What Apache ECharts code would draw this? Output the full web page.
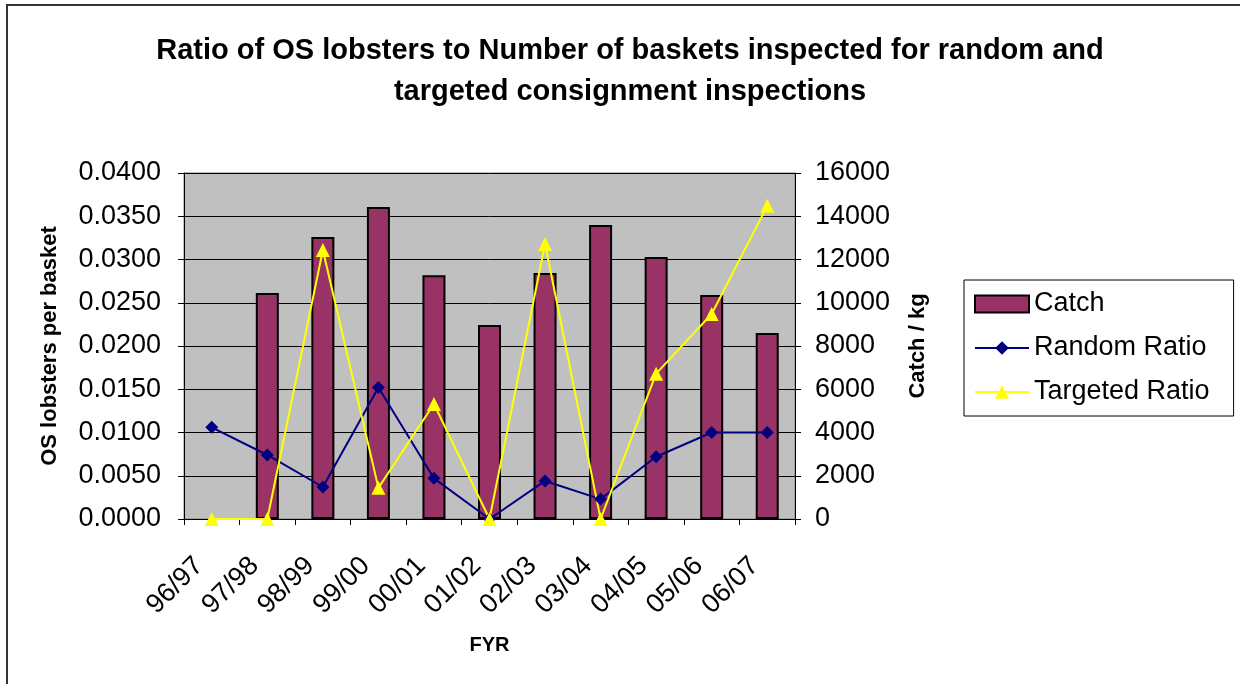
<!DOCTYPE html>
<html>
<head>
<meta charset="utf-8">
<script src="https://cdn.jsdelivr.net/npm/echarts@6/dist/echarts.min.js"></script>
<style>
html,body{margin:0;padding:0;background:#fff;}
#chart{width:1240px;height:684px;}
</style>
</head>
<body>
<div id="chart"></div>
<script>
const categories = ['96/97','97/98','98/99','99/00','00/01','01/02','02/03','03/04','04/05','05/06','06/07'];
const catchKg = [null, 10450, 13040, 14430, 11270, 8970, 11380, 13600, 12120, 10360, 8600];
const randomRatio = [0.0106, 0.0074, 0.0037, 0.0152, 0.0047, 0.0000, 0.0044, 0.0023, 0.0072, 0.0100, 0.0100];
const targetedRatio = [0.0000, 0.0000, 0.0311, 0.0036, 0.0133, 0.0000, 0.0318, 0.0000, 0.0168, 0.0237, 0.0362];
const leftTicks = {min: 0, max: 0.04, interval: 0.005};
const rightTicks = {min: 0, max: 16000, interval: 2000};

const FONT = '"Liberation Sans", Arial, sans-serif';
const chart = echarts.init(document.getElementById('chart'), null, {renderer: 'canvas'});
chart.setOption({
  animation: false,
  backgroundColor: '#ffffff',
  textStyle: {fontFamily: FONT, color: '#000'},
  title: {
    text: 'Ratio of OS lobsters to Number of baskets inspected for random and\ntargeted consignment inspections',
    left: 625, top: 25, textAlign: 'center',
    textStyle: {fontFamily: FONT, fontSize: 29, fontWeight: 'bold', color: '#000', lineHeight: 41}
  },
  graphic: [{
    type: 'rect', shape: {x: 7, y: 5, width: 1300, height: 800},
    style: {fill: 'none', stroke: '#333', lineWidth: 2}, silent: true, z: 100
  }],
  legend: {
    orient: 'vertical', left: 964, top: 280,
    padding: [9, 24, 9, 10], itemGap: 14, itemWidth: 54, itemHeight: 17,
    borderColor: '#000', borderWidth: 1, backgroundColor: '#fff',
    textStyle: {fontFamily: FONT, fontSize: 27, color: '#000', lineHeight: 30},
    data: [{name: 'Catch', icon: 'rect'}, {name: 'Random Ratio'}, {name: 'Targeted Ratio'}]
  },
  grid: {left: 184, right: 445, top: 173, bottom: 165, show: true, backgroundColor: '#C0C0C0', borderColor: '#808080', borderWidth: 1},
  xAxis: {
    type: 'category', data: categories, boundaryGap: true,
    name: 'FYR', nameLocation: 'middle', nameGap: 116,
    nameTextStyle: {fontFamily: FONT, fontSize: 20, fontWeight: 'bold', color: '#000'},
    axisLine: {lineStyle: {color: '#000', width: 1}},
    axisTick: {show: true, length: 6, lineStyle: {color: '#000'}},
    axisLabel: {rotate: 45, fontSize: 27, color: '#000', margin: 30, padding: [0, 18, 0, 0], fontFamily: FONT, interval: 0}
  },
  yAxis: [{
    type: 'value', min: leftTicks.min, max: leftTicks.max, interval: leftTicks.interval,
    name: 'OS lobsters per basket', nameLocation: 'middle', nameGap: 123, nameRotate: 90,
    nameTextStyle: {fontFamily: FONT, fontSize: 22, fontWeight: 'bold', color: '#000'},
    axisLine: {show: true, lineStyle: {color: '#000'}},
    axisTick: {show: true, length: 6, lineStyle: {color: '#000'}},
    axisLabel: {fontSize: 27, color: '#000', margin: 23, fontFamily: FONT, formatter: v => v.toFixed(4)},
    splitLine: {show: true, lineStyle: {color: '#000', width: 1}}
  }, {
    type: 'value', min: rightTicks.min, max: rightTicks.max, interval: rightTicks.interval,
    name: 'Catch / kg', nameLocation: 'middle', nameGap: 112, nameRotate: 90,
    nameTextStyle: {fontFamily: FONT, fontSize: 22, fontWeight: 'bold', color: '#000'},
    axisLine: {show: true, lineStyle: {color: '#000'}},
    axisTick: {show: true, length: 6, lineStyle: {color: '#000'}},
    axisLabel: {fontSize: 27, color: '#000', margin: 20, fontFamily: FONT, formatter: v => String(v)},
    splitLine: {show: false}
  }],
  series: [{
    name: 'Catch', type: 'bar', yAxisIndex: 1, data: catchKg, barWidth: 23,
    itemStyle: {color: '#993366', borderColor: '#000', borderWidth: 2}
  }, {
    name: 'Random Ratio', type: 'line', yAxisIndex: 0, data: randomRatio,
    symbol: 'diamond', symbolSize: 13, showAllSymbol: true,
    lineStyle: {color: '#000080', width: 2}, itemStyle: {color: '#000080'}
  }, {
    name: 'Targeted Ratio', type: 'line', yAxisIndex: 0, data: targetedRatio,
    symbol: 'triangle', symbolSize: 14, showAllSymbol: true,
    lineStyle: {color: '#FFFF00', width: 2}, itemStyle: {color: '#FFFF00'}
  }]
});
</script>
</body>
</html>
